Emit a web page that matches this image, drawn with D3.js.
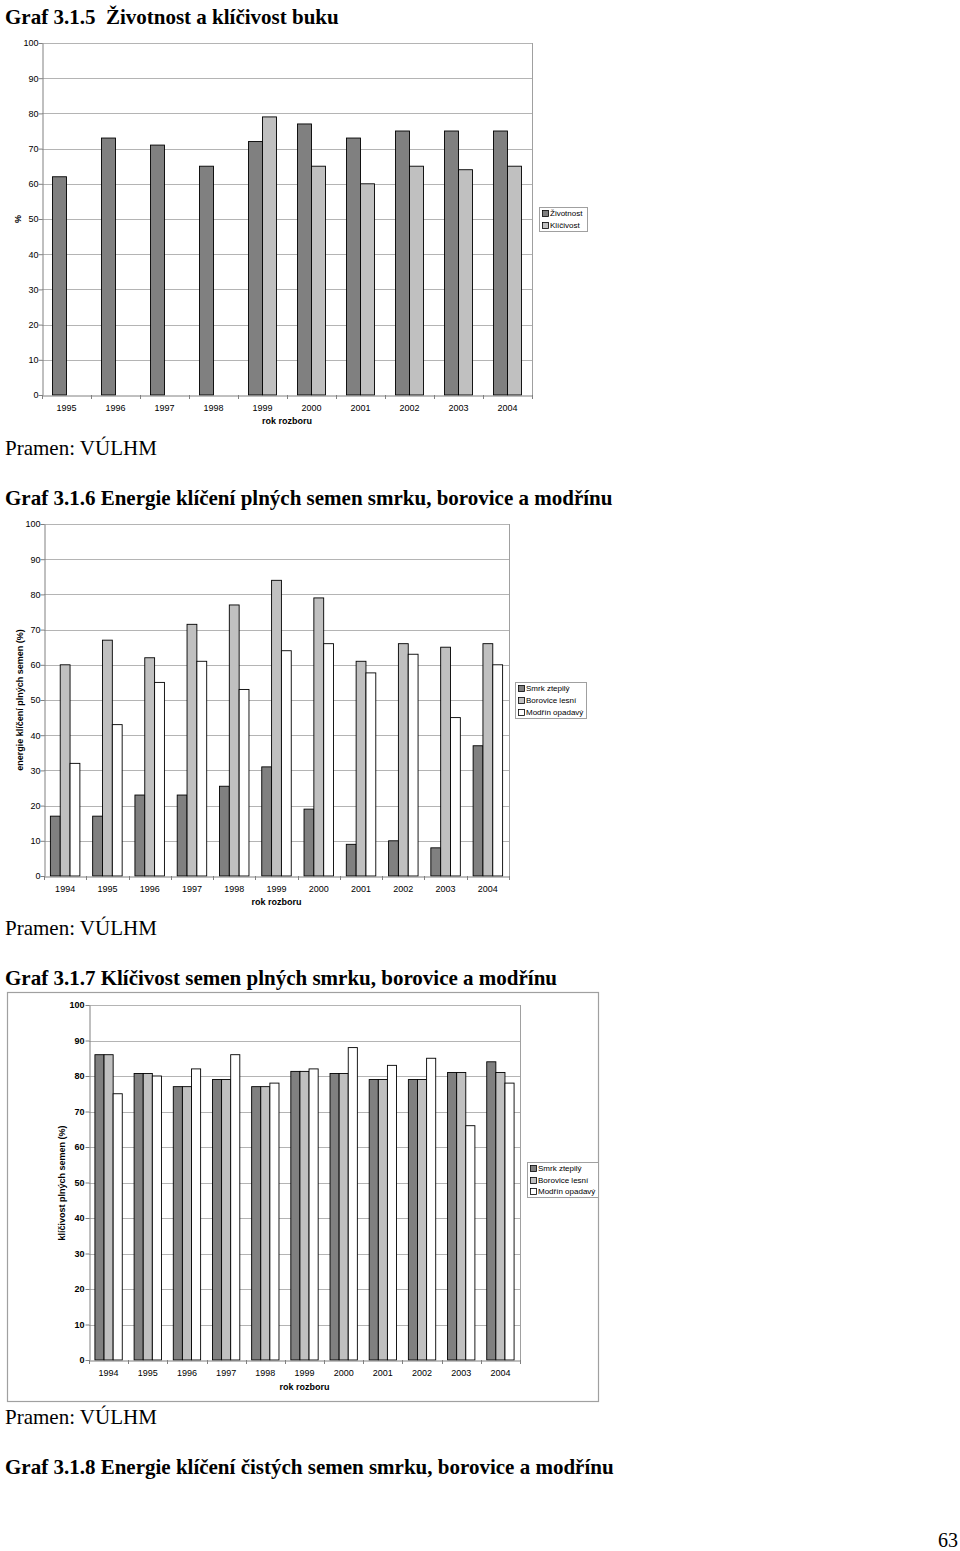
<!DOCTYPE html>
<html>
<head>
<meta charset="utf-8">
<script src="https://cdn.jsdelivr.net/npm/d3@7"></script>
<style>
  html, body { margin: 0; padding: 0; background: #fff; }
  svg { display: block; }
  text { white-space: pre; }
</style>
</head>
<body>
<svg id="page" width="960" height="1551"></svg>
<script>
// ---------- DATA ----------
const yTicks = [0, 10, 20, 30, 40, 50, 60, 70, 80, 90, 100];

const years1 = ["1995","1996","1997","1998","1999","2000","2001","2002","2003","2004"];
const zivotnost = [62, 73, 71, 65, 72, 77, 73, 75, 75, 75];
const klicivost = [null, null, null, null, 79, 65, 60, 65, 64, 65];
const series1Names = ["Životnost", "Klíčivost"];

const years2 = ["1994","1995","1996","1997","1998","1999","2000","2001","2002","2003","2004"];
const energieSmrk = [17, 17, 23, 23, 25.5, 31, 19, 9, 10, 8, 37];
const energieBorovice = [60, 67, 62, 71.5, 77, 84, 79, 61, 66, 65, 66];
const energieModrin = [32, 43, 55, 61, 53, 64, 66, 57.7, 63, 45, 60];

const years3 = ["1994","1995","1996","1997","1998","1999","2000","2001","2002","2003","2004"];
const klicSmrk = [86, 80.7, 77, 79, 77, 81.3, 80.7, 79, 79, 81, 84];
const klicBorovice = [86, 80.7, 77, 79, 77, 81.3, 80.7, 79, 79, 81, 81];
const klicModrin = [75, 80, 82, 86, 78, 82, 88, 83, 85, 66, 78];
const speciesNames = ["Smrk ztepilý", "Borovice lesní", "Modřín opadavý"];

// ---------- DRAWING ----------
const svg = d3.select("#page");
const serif = "'Liberation Serif', 'Times New Roman', serif";
const sans = "'Liberation Sans', Arial, sans-serif";
const fills = ["#808080", "#c0c0c0", "#ffffff"];

function text(x, y, str, opts) {
  const t = svg.append("text").attr("x", x).attr("y", y).text(str)
    .attr("font-family", opts.family || serif)
    .attr("font-size", opts.size || 20)
    .attr("font-weight", opts.weight || "normal")
    .attr("xml:space", "preserve")
    .attr("fill", "#000");
  if (opts.anchor) t.attr("text-anchor", opts.anchor);
  return t;
}

function drawChart(cfg) {
  const g = svg.append("g");
  if (cfg.outer) {
    g.append("rect").attr("x", cfg.outer[0] + 0.5).attr("y", cfg.outer[1] + 0.5)
      .attr("width", cfg.outer[2] - cfg.outer[0]).attr("height", cfg.outer[3] - cfg.outer[1])
      .attr("fill", "none").attr("stroke", "#a0a0a0").attr("stroke-width", 1.2);
  }
  const x = d3.scaleBand().domain(cfg.categories).range([cfg.left, cfg.right]).paddingInner(0).paddingOuter(0);
  const y = d3.scaleLinear().domain([0, 100]).range([cfg.bottom, cfg.top]);

  // gridlines
  g.append("g").selectAll("line").data(yTicks.filter(d => d > 0)).join("line")
    .attr("x1", cfg.left).attr("x2", cfg.right)
    .attr("y1", d => Math.round(y(d)) + 0.5).attr("y2", d => Math.round(y(d)) + 0.5)
    .attr("stroke", "#b4b4b4").attr("stroke-width", 1);
  // right border of plot
  g.append("line").attr("x1", cfg.right + 0.5).attr("x2", cfg.right + 0.5)
    .attr("y1", cfg.top).attr("y2", cfg.bottom).attr("stroke", "#a0a0a0");

  // bars
  const n = cfg.series.length;
  const bw = x.bandwidth() / cfg.ratio;
  cfg.series.forEach((vals, si) => {
    g.append("g").selectAll("rect").data(vals.map((v, i) => ({ v, c: cfg.categories[i] })).filter(d => d.v != null))
      .join("rect")
      .attr("x", d => x(d.c) + x.bandwidth() / 2 - n * bw / 2 + si * bw)
      .attr("y", d => y(d.v))
      .attr("width", bw)
      .attr("height", d => y(0) - y(d.v))
      .attr("fill", fills[si])
      .attr("stroke", "#000").attr("stroke-width", 0.9);
  });

  // left axis
  const ya = d3.axisLeft(y).tickValues(yTicks).tickSize(4).tickSizeOuter(0).tickPadding(cfg.yPad);
  const yg = g.append("g").attr("transform", `translate(${cfg.left + 0.5},0)`).call(ya);
  yg.select(".domain").attr("stroke", "#808080");
  yg.selectAll(".tick line").attr("stroke", "#808080");
  yg.selectAll("text").attr("font-family", sans).attr("font-size", 9)
    .attr("font-weight", cfg.boldTicks ? "bold" : "normal").attr("fill", "#000");

  // bottom axis with category labels
  const xa = d3.axisBottom(x).tickSize(0).tickSizeOuter(0).tickPadding(9);
  const xg = g.append("g").attr("transform", `translate(0,${cfg.bottom + 0.5})`).call(xa);
  xg.select(".domain").attr("stroke", "#808080");
  xg.selectAll("text").attr("font-family", sans).attr("font-size", 9).attr("fill", "#000");
  // tick marks at category boundaries
  const bounds = cfg.categories.map(c => x(c)).concat([cfg.right]);
  g.append("g").selectAll("line").data(bounds).join("line")
    .attr("x1", d => Math.round(d) + 0.5).attr("x2", d => Math.round(d) + 0.5)
    .attr("y1", cfg.bottom).attr("y2", cfg.bottom + 4)
    .attr("stroke", "#808080");

  // axis titles
  text((cfg.left + cfg.right) / 2, cfg.xTitleY, "rok rozboru", { family: sans, size: 9, weight: "bold", anchor: "middle" });
  text(0, 0, cfg.yTitle, { family: sans, size: 9, weight: "bold", anchor: "middle" })
    .attr("transform", `translate(${cfg.yTitleX},${cfg.yTitleY}) rotate(-90)`);

  // legend
  const L = cfg.legend;
  svg.append("rect").attr("x", L[0] + 0.5).attr("y", L[1] + 0.5).attr("width", L[2] - L[0]).attr("height", L[3] - L[1])
    .attr("fill", "#fff").attr("stroke", "#a0a0a0");
  const step = (L[3] - L[1]) / cfg.names.length;
  cfg.names.forEach((nm, i) => {
    const cy = L[1] + step * (i + 0.5);
    svg.append("rect").attr("x", L[0] + 3.5).attr("y", Math.round(cy - 3) + 0.5).attr("width", 6).attr("height", 6)
      .attr("fill", fills[i]).attr("stroke", "#000").attr("stroke-width", 0.8);
    text(L[0] + 11, cy + 3, nm, { family: sans, size: 8 });
  });
}

// Titles and sources
text(5, 24, "Graf 3.1.5  Životnost a klíčivost buku", { size: 21, weight: "bold" });
text(5, 455, "Pramen: VÚLHM", { size: 21 });
text(5, 505, "Graf 3.1.6 Energie klíčení plných semen smrku, borovice a modřínu", { size: 21, weight: "bold" });
text(5, 935, "Pramen: VÚLHM", { size: 21 });
text(5, 985, "Graf 3.1.7 Klíčivost semen plných smrku, borovice a modřínu", { size: 21, weight: "bold" });
text(5, 1424, "Pramen: VÚLHM", { size: 21 });
text(5, 1474, "Graf 3.1.8 Energie klíčení čistých semen smrku, borovice a modřínu", { size: 21, weight: "bold" });
text(958, 1547, "63", { size: 20, anchor: "end" });

drawChart({
  categories: years1, series: [zivotnost, klicivost], names: series1Names, ratio: 3.5,
  left: 42, right: 532, top: 43, bottom: 395, yPad: 0,
  xTitleY: 424, yTitle: "%", yTitleX: 21, yTitleY: 219,
  legend: [539, 207, 587, 231]
});

drawChart({
  categories: years2, series: [energieSmrk, energieBorovice, energieModrin], names: speciesNames, ratio: 4.3,
  left: 44, right: 509, top: 524, bottom: 876, yPad: 0,
  xTitleY: 905, yTitle: "energie klíčení plných semen (%)", yTitleX: 23, yTitleY: 700,
  legend: [515, 682, 586, 718]
});

drawChart({
  categories: years3, series: [klicSmrk, klicBorovice, klicModrin], names: speciesNames, ratio: 4.3,
  left: 89, right: 520, top: 1005, bottom: 1360, boldTicks: true, yPad: 1,
  xTitleY: 1390, yTitle: "klíčivost plných semen (%)", yTitleX: 65, yTitleY: 1183,
  legend: [527, 1162, 598, 1197], outer: [7, 992, 598, 1401]
});
</script>
</body>
</html>
